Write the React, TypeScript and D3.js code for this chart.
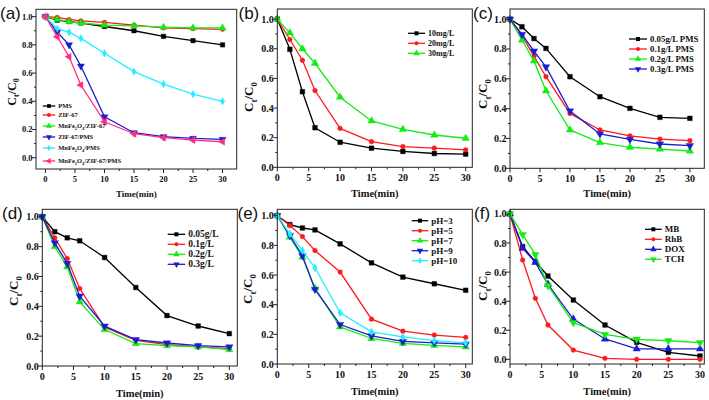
import React from 'react';
import * as d3 from 'd3';

const TIME = [0, 2, 4, 6, 10, 15, 20, 25, 30];

// (a)
const A_NAMES = ['PMS', 'ZIF-67', 'MnFe2O4/ZIF-67', 'ZIF-67/PMS', 'MnFe2O4/PMS', 'MnFe2O4/ZIF-67/PMS'];
const A_PMS = [1.0, 0.975, 0.965, 0.955, 0.93, 0.9, 0.86, 0.83, 0.8];
const A_ZIF = [1.0, 0.995, 0.98, 0.97, 0.96, 0.94, 0.92, 0.915, 0.91];
const A_MNF_ZIF = [1.0, 0.98, 0.965, 0.955, 0.94, 0.935, 0.925, 0.92, 0.92];
const A_ZIF_PMS = [1.0, 0.89, 0.8, 0.65, 0.29, 0.177, 0.149, 0.137, 0.13];
const A_MNF_PMS = [1.0, 0.915, 0.89, 0.846, 0.74, 0.61, 0.522, 0.45, 0.4];
const A_MNF_ZIF_PMS = [1.0, 0.858, 0.716, 0.515, 0.255, 0.17, 0.142, 0.125, 0.113];

// (b)
const B_NAMES = ['10mg/L', '20mg/L', '30mg/L'];
const B_10 = [1.0, 0.796, 0.51, 0.267, 0.169, 0.129, 0.107, 0.093, 0.089];
const B_20 = [1.0, 0.862, 0.722, 0.518, 0.262, 0.173, 0.14, 0.129, 0.118];
const B_30 = [1.0, 0.907, 0.8, 0.702, 0.473, 0.313, 0.256, 0.218, 0.196];

// (c)
const C_NAMES = ['0.05g/L PMS', '0.1g/L PMS', '0.2g/L PMS', '0.3g/L PMS'];
const C_005 = [1.0, 0.949, 0.87, 0.804, 0.614, 0.48, 0.402, 0.342, 0.335];
const C_01 = [1.0, 0.888, 0.752, 0.614, 0.368, 0.257, 0.217, 0.196, 0.185];
const C_02 = [1.0, 0.86, 0.72, 0.52, 0.257, 0.172, 0.141, 0.129, 0.116];
const C_03 = [1.0, 0.897, 0.786, 0.68, 0.384, 0.23, 0.194, 0.163, 0.152];

// (d)
const D_NAMES = ['0.05g/L', '0.1g/L', '0.2g/L', '0.3g/L'];
const D_005 = [1.0, 0.9, 0.859, 0.839, 0.727, 0.526, 0.338, 0.268, 0.217];
const D_01 = [1.0, 0.859, 0.72, 0.519, 0.26, 0.172, 0.143, 0.128, 0.116];
const D_02 = [1.0, 0.8, 0.664, 0.43, 0.244, 0.15, 0.136, 0.128, 0.11];
const D_03 = [1.0, 0.825, 0.687, 0.468, 0.267, 0.177, 0.154, 0.136, 0.128];

// (e)
const E_NAMES = ['pH=3', 'pH=5', 'pH=7', 'pH=9', 'pH=10'];
const E_3 = [1.0, 0.94, 0.917, 0.904, 0.81, 0.682, 0.586, 0.541, 0.497];
const E_5 = [1.0, 0.933, 0.859, 0.765, 0.62, 0.302, 0.221, 0.195, 0.179];
const E_7 = [1.0, 0.855, 0.72, 0.512, 0.25, 0.172, 0.139, 0.125, 0.116];
const E_9 = [1.0, 0.866, 0.73, 0.503, 0.266, 0.19, 0.152, 0.143, 0.134];
const E_10 = [1.0, 0.877, 0.765, 0.649, 0.345, 0.217, 0.183, 0.157, 0.143];

// (f)
const F_NAMES = ['MB', 'RhB', 'DOX', 'TCH'];
const F_MB = [1.0, 0.775, 0.672, 0.573, 0.408, 0.236, 0.117, 0.048, 0.023];
const F_RHB = [1.0, 0.683, 0.42, 0.236, 0.064, 0.007, 0.0, 0.0, 0.0];
const F_DOX = [1.0, 0.764, 0.667, 0.516, 0.277, 0.14, 0.072, 0.072, 0.072];
const F_TCH = [1.0, 0.858, 0.72, 0.507, 0.252, 0.172, 0.138, 0.128, 0.115];

const X_TICKS = [0, 5, 10, 15, 20, 25, 30];
const Y_TICKS = [0, 0.2, 0.4, 0.6, 0.8, 1.0];

const COL = {
  black: '#000000',
  red: '#ff1a1a',
  green: '#14ec14',
  blue: '#1c1cd0',
  cyan: '#22eeff',
  pink: '#ff2d84',
};

type Shape = 'square' | 'circle' | 'up' | 'down' | 'diamond' | 'left';
type Series = { name: string; values: number[]; color: string; shape: Shape };

const SERIF = '"Liberation Serif", "Times New Roman", serif';
const SANS = '"Liberation Sans", Arial, sans-serif';

function symbolPath(shape: Shape, size: number) {
  const map: Record<Shape, d3.SymbolType> = {
    square: d3.symbolSquare,
    circle: d3.symbolCircle,
    up: d3.symbolTriangle,
    down: d3.symbolTriangle,
    diamond: d3.symbolDiamond,
    left: d3.symbolTriangle,
  };
  const area = shape === 'circle' ? size * 0.8 : shape === 'diamond' ? size * 0.8 : shape === 'square' ? size : size * 1.1;
  return d3.symbol(map[shape], area)() as string;
}
function symbolRotate(shape: Shape) {
  if (shape === 'down') return 180;
  if (shape === 'left') return -90;
  return 0;
}

function richRuns(s: string) {
  const runs: { t: string; sub: boolean }[] = [];
  let prevSub = false;
  for (let i = 0; i < s.length; i++) {
    const c = s[i];
    const prev = i > 0 ? s[i - 1] : '';
    const isDigit = /[0-9]/.test(c);
    const sub = isDigit && (/[A-Za-z]/.test(prev) || (prevSub && /[0-9]/.test(prev)));
    if (runs.length && runs[runs.length - 1].sub === sub) runs[runs.length - 1].t += c;
    else runs.push({ t: c, sub });
    prevSub = sub;
  }
  return runs;
}

function RichText({ runs, fs }: { runs: { t: string; sub: boolean }[]; fs: number }) {
  const shift = fs * 0.28;
  let cur = 0;
  return (
    <>
      {runs.map((r, i) => {
        const target = r.sub ? shift : 0;
        const dy = target - cur;
        cur = target;
        return (
          <tspan key={i} dy={dy !== 0 ? dy : undefined} fontSize={r.sub ? fs * 0.68 : fs}>
            {r.t}
          </tspan>
        );
      })}
    </>
  );
}

type Cfg = {
  label: string;
  labelPos: [number, number];
  box: [number, number, number, number];
  xDom: [number, number];
  yDom: [number, number];
  series: Series[];
  legend: { x: number; len: number; ys: number[]; fs: number; msize: number };
  tickFs: number;
  titleFs: number;
  titleY: number;
  ylab: [number, number];
  ylabFs: number;
  msize: number;
};

function Panel({ cfg }: { cfg: Cfg }) {
  const [x0, x1, y0, y1] = cfg.box;
  const sx = d3.scaleLinear().domain(cfg.xDom).range([x0, x1]);
  const sy = d3.scaleLinear().domain(cfg.yDom).range([y1, y0]);
  const line = d3
    .line<number>()
    .x((_, i) => sx(TIME[i]))
    .y((v) => sy(v));
  const xMinor = d3.range(2.5, 30, 5).filter((v) => v >= cfg.xDom[0] && v <= cfg.xDom[1]);
  const yMinor = [0.1, 0.3, 0.5, 0.7, 0.9].filter((v) => v >= cfg.yDom[0] && v <= cfg.yDom[1]);
  const fmt = d3.format('.1f');
  const axisCol = '#222';
  return (
    <g>
      <text x={cfg.labelPos[0]} y={cfg.labelPos[1]} fontFamily={SANS} fontSize={17} fill="#111">
        {cfg.label}
      </text>
      {cfg.series.map((s) => (
        <g key={s.name}>
          <path d={line(s.values) as string} fill="none" stroke={s.color} strokeWidth={1.3} />
          {s.values.map((v, i) => (
            <path
              key={i}
              d={symbolPath(s.shape, cfg.msize)}
              transform={`translate(${sx(TIME[i])},${sy(v)}) rotate(${symbolRotate(s.shape)})`}
              fill={s.color}
              stroke={s.color}
              strokeWidth={0.4}
            />
          ))}
        </g>
      ))}
      <rect x={x0} y={y0} width={x1 - x0} height={y1 - y0} fill="none" stroke={axisCol} strokeWidth={1} />
      {X_TICKS.map((t) => (
        <g key={'x' + t}>
          <line x1={sx(t)} x2={sx(t)} y1={y1} y2={y1 + 4} stroke={axisCol} />
          <text
            x={sx(t)}
            y={y1 + 4 + cfg.tickFs}
            textAnchor="middle"
            fontFamily={SERIF}
            fontWeight="bold"
            fontSize={cfg.tickFs}
            fill="#111"
          >
            {t}
          </text>
        </g>
      ))}
      {xMinor.map((t) => (
        <line key={'xm' + t} x1={sx(t)} x2={sx(t)} y1={y1} y2={y1 + 2} stroke={axisCol} />
      ))}
      {Y_TICKS.map((t) => (
        <g key={'y' + t}>
          <line x1={x0 - 4} x2={x0} y1={sy(t)} y2={sy(t)} stroke={axisCol} />
          <text
            x={x0 - 3.5}
            y={sy(t)}
            dy="0.35em"
            textAnchor="end"
            fontFamily={SERIF}
            fontWeight="bold"
            fontSize={cfg.tickFs}
            fill="#111"
          >
            {fmt(t)}
          </text>
        </g>
      ))}
      {yMinor.map((t) => (
        <line key={'ym' + t} x1={x0 - 2} x2={x0} y1={sy(t)} y2={sy(t)} stroke={axisCol} />
      ))}
      <text
        x={(x0 + x1) / 2}
        y={cfg.titleY}
        textAnchor="middle"
        fontFamily={SERIF}
        fontWeight="bold"
        fontSize={cfg.titleFs}
        fill="#111"
      >
        Time(min)
      </text>
      <text
        transform={`translate(${cfg.ylab[0]},${cfg.ylab[1]}) rotate(-90)`}
        textAnchor="middle"
        fontFamily={SERIF}
        fontWeight="bold"
        fill="#111"
      >
        <RichText
          fs={cfg.ylabFs}
          runs={[
            { t: 'C', sub: false },
            { t: 't', sub: true },
            { t: '/C', sub: false },
            { t: '0', sub: true },
          ]}
        />
      </text>
      {cfg.series.map((s, i) => {
        const ly = cfg.legend.ys[i];
        const lx = cfg.legend.x;
        const len = cfg.legend.len;
        return (
          <g key={'lg' + s.name}>
            <line x1={lx} x2={lx + len} y1={ly} y2={ly} stroke={s.color} strokeWidth={1.3} />
            <path
              d={symbolPath(s.shape, cfg.legend.msize)}
              transform={`translate(${lx + len / 2},${ly}) rotate(${symbolRotate(s.shape)})`}
              fill={s.color}
            />
            <text
              x={lx + len + 3}
              y={ly}
              dy="0.33em"
              fontFamily={SERIF}
              fontWeight="bold"
              fill="#111"
              fontSize={cfg.legend.fs}
            >
              <RichText runs={richRuns(s.name)} fs={cfg.legend.fs} />
            </text>
          </g>
        );
      })}
    </g>
  );
}

const PANELS: Cfg[] = [
  {
    label: '(a)',
    labelPos: [0, 19],
    box: [36, 236.7, 9.3, 169],
    xDom: [-1.6, 32.4],
    yDom: [-0.08, 1.052],
    series: [
      { name: A_NAMES[0], values: A_PMS, color: COL.black, shape: 'square' },
      { name: A_NAMES[1], values: A_ZIF, color: COL.red, shape: 'circle' },
      { name: A_NAMES[2], values: A_MNF_ZIF, color: COL.green, shape: 'up' },
      { name: A_NAMES[3], values: A_ZIF_PMS, color: COL.blue, shape: 'down' },
      { name: A_NAMES[4], values: A_MNF_PMS, color: COL.cyan, shape: 'diamond' },
      { name: A_NAMES[5], values: A_MNF_ZIF_PMS, color: COL.pink, shape: 'left' },
    ],
    legend: { x: 42.7, len: 12.5, ys: [106, 115, 126, 137, 148, 161], fs: 6.5, msize: 14 },
    tickFs: 8.5,
    titleFs: 9,
    titleY: 196.5,
    ylab: [16, 92],
    ylabFs: 12,
    msize: 20,
  },
  {
    label: '(b)',
    labelPos: [238.5, 19],
    box: [277.3, 472.3, 9, 167.3],
    xDom: [0, 31.05],
    yDom: [0, 1.068],
    series: [
      { name: B_NAMES[0], values: B_10, color: COL.black, shape: 'square' },
      { name: B_NAMES[1], values: B_20, color: COL.red, shape: 'circle' },
      { name: B_NAMES[2], values: B_30, color: COL.green, shape: 'up' },
    ],
    legend: { x: 408, len: 17, ys: [33.3, 43.3, 53.3], fs: 8, msize: 16 },
    tickFs: 10,
    titleFs: 10.5,
    titleY: 197,
    ylab: [253, 97],
    ylabFs: 13,
    msize: 22,
  },
  {
    label: '(c)',
    labelPos: [473, 19],
    box: [510, 704.3, 9, 168.3],
    xDom: [0, 32.4],
    yDom: [0, 1.068],
    series: [
      { name: C_NAMES[0], values: C_005, color: COL.black, shape: 'square' },
      { name: C_NAMES[1], values: C_01, color: COL.red, shape: 'circle' },
      { name: C_NAMES[2], values: C_02, color: COL.green, shape: 'up' },
      { name: C_NAMES[3], values: C_03, color: COL.blue, shape: 'down' },
    ],
    legend: { x: 629, len: 18, ys: [39, 49, 59, 69], fs: 8.8, msize: 16 },
    tickFs: 10,
    titleFs: 10.5,
    titleY: 197,
    ylab: [487, 94],
    ylabFs: 13,
    msize: 22,
  },
  {
    label: '(d)',
    labelPos: [2, 219],
    box: [42.3, 237.3, 209.3, 366],
    xDom: [0, 31.28],
    yDom: [0, 1.05],
    series: [
      { name: D_NAMES[0], values: D_005, color: COL.black, shape: 'square' },
      { name: D_NAMES[1], values: D_01, color: COL.red, shape: 'circle' },
      { name: D_NAMES[2], values: D_02, color: COL.green, shape: 'up' },
      { name: D_NAMES[3], values: D_03, color: COL.blue, shape: 'down' },
    ],
    legend: { x: 167.7, len: 17.5, ys: [234.3, 244.3, 254.3, 264.3], fs: 9.5, msize: 16 },
    tickFs: 10,
    titleFs: 10.5,
    titleY: 396.5,
    ylab: [18, 291],
    ylabFs: 13,
    msize: 22,
  },
  {
    label: '(e)',
    labelPos: [237.5, 219],
    box: [277.3, 472.3, 209.3, 364],
    xDom: [0, 31.05],
    yDom: [0, 1.043],
    series: [
      { name: E_NAMES[0], values: E_3, color: COL.black, shape: 'square' },
      { name: E_NAMES[1], values: E_5, color: COL.red, shape: 'circle' },
      { name: E_NAMES[2], values: E_7, color: COL.green, shape: 'up' },
      { name: E_NAMES[3], values: E_9, color: COL.blue, shape: 'down' },
      { name: E_NAMES[4], values: E_10, color: COL.cyan, shape: 'diamond' },
    ],
    legend: { x: 411.7, len: 16.5, ys: [220.7, 230.7, 240.7, 250.7, 260.7], fs: 9, msize: 16 },
    tickFs: 10,
    titleFs: 10.5,
    titleY: 394.5,
    ylab: [252, 289],
    ylabFs: 13,
    msize: 22,
  },
  {
    label: '(f)',
    labelPos: [474, 219],
    box: [510, 704.3, 209.3, 364],
    xDom: [0, 30.68],
    yDom: [-0.032, 1.032],
    series: [
      { name: F_NAMES[0], values: F_MB, color: COL.black, shape: 'square' },
      { name: F_NAMES[1], values: F_RHB, color: COL.red, shape: 'circle' },
      { name: F_NAMES[2], values: F_DOX, color: COL.blue, shape: 'up' },
      { name: F_NAMES[3], values: F_TCH, color: COL.green, shape: 'down' },
    ],
    legend: { x: 645, len: 16.7, ys: [229.3, 239.3, 249.3, 259.3], fs: 9, msize: 16 },
    tickFs: 10,
    titleFs: 10.5,
    titleY: 394.5,
    ylab: [487, 286],
    ylabFs: 13,
    msize: 22,
  },
];

export default function App() {
  return (
    <svg
      width={709}
      height={400}
      viewBox="0 0 709 400"
      style={{ position: 'fixed', left: 0, top: 0, background: '#fff', display: 'block' }}
    >
      <rect x={0} y={0} width={709} height={400} fill="#fff" />
      {PANELS.map((p) => (
        <Panel key={p.label} cfg={p} />
      ))}
    </svg>
  );
}
